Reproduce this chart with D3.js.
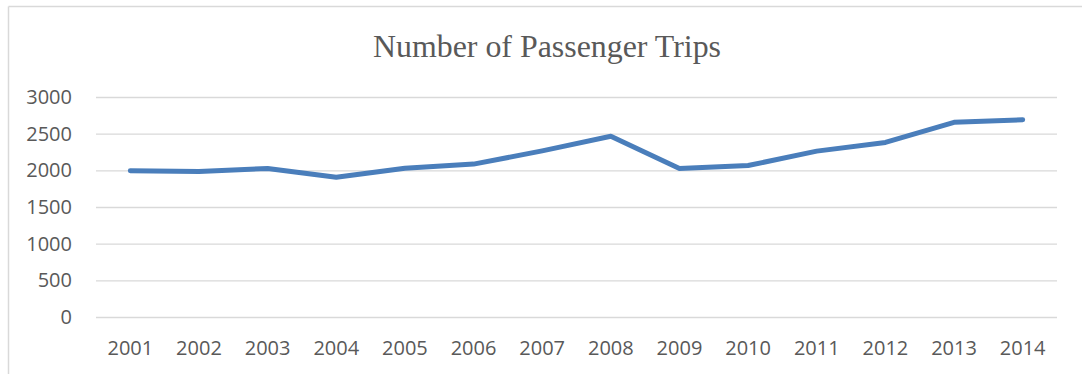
<!DOCTYPE html>
<html>
<head>
<meta charset="utf-8">
<script src="https://cdn.jsdelivr.net/npm/d3@7"></script>
<style>
  html, body { margin: 0; padding: 0; background: #fff; }
  svg { display: block; }
</style>
</head>
<body>
<svg id="chart" width="1082" height="374"></svg>
<script>
const title = "Number of Passenger Trips";
const years = ["2001","2002","2003","2004","2005","2006","2007","2008","2009","2010","2011","2012","2013","2014"];
const trips = [1995, 1985, 2025, 1905, 2027, 2085, 2265, 2465, 2025, 2065, 2262, 2380, 2655, 2690];
const yTicks = [0, 500, 1000, 1500, 2000, 2500, 3000];

const svg = d3.select("#chart");
const W = 1082, H = 374;
const plot = { left: 96, right: 1057, top: 97, bottom: 317 };

// chart border (top and left visible)
svg.append("line").attr("x1", 8.5).attr("x2", W).attr("y1", 6.5).attr("y2", 6.5)
  .attr("stroke", "#d9d9d9").attr("stroke-width", 1.5);
svg.append("line").attr("x1", 8.5).attr("x2", 8.5).attr("y1", 6.5).attr("y2", H)
  .attr("stroke", "#d9d9d9").attr("stroke-width", 1.5);

const x = d3.scaleBand().domain(years).range([plot.left, plot.right]).padding(0);
const y = d3.scaleLinear().domain([0, 3000]).range([plot.bottom, plot.top]);

// gridlines + y labels
const yAxis = d3.axisLeft(y).tickValues(yTicks).tickFormat(d3.format("d"))
  .tickSize(-(plot.right - plot.left)).tickPadding(24);
const gy = svg.append("g").attr("transform", `translate(${plot.left},0)`).call(yAxis);
gy.select(".domain").remove();
gy.selectAll(".tick line").attr("stroke", "#d9d9d9").attr("stroke-width", 1.3);
gy.selectAll(".tick text")
  .attr("fill", "#595959")
  .style("font-family", "'Open Sans', sans-serif")
  .style("font-size", "20px");

const xAxis = d3.axisBottom(x).tickSize(0).tickPadding(24);
const gx = svg.append("g").attr("transform", `translate(0,${plot.bottom})`).call(xAxis);
gx.select(".domain").remove();
gx.selectAll(".tick text")
  .attr("fill", "#595959")
  .style("font-family", "'Open Sans', sans-serif")
  .style("font-size", "20px");

// line
const line = d3.line()
  .x((d, i) => x(years[i]) + x.bandwidth() / 2)
  .y(d => y(d));
svg.append("path").datum(trips)
  .attr("d", line)
  .attr("fill", "none")
  .attr("stroke", "#4a7ebb")
  .attr("stroke-width", 5)
  .attr("stroke-linejoin", "round")
  .attr("stroke-linecap", "round");

// title
const t = svg.append("text")
  .attr("x", 547).attr("y", 57)
  .attr("text-anchor", "middle")
  .attr("fill", "#595959")
  .style("font-family", "'Liberation Serif', 'Times New Roman', serif")
  .style("font-size", "30px")
  .text(title);
const wT = t.node().getComputedTextLength();
t.style("font-size", (30 * 348 / wT).toFixed(2) + "px");
</script>
</body>
</html>
